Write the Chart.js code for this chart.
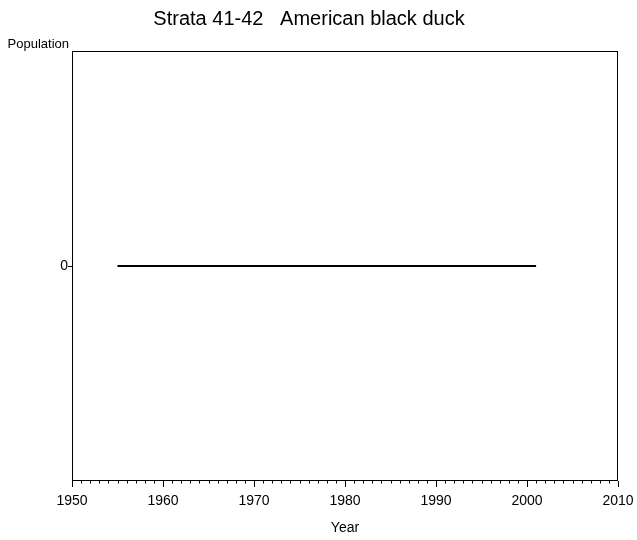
<!DOCTYPE html>
<html>
<head>
<meta charset="utf-8">
<script src="https://cdn.jsdelivr.net/npm/chart.js@4"></script>
<style>
  html, body { margin: 0; padding: 0; background: #fff; }
  #wrap { width: 637px; height: 540px; }
</style>
</head>
<body>
<div id="wrap"><canvas id="c" width="637" height="540"></canvas></div>
<script>
// Survey years and estimated population for the stratum
const years = [1955, 1956, 1957, 1958, 1959, 1960, 1961, 1962, 1963, 1964,
               1965, 1966, 1967, 1968, 1969, 1970, 1971, 1972, 1973, 1974,
               1975, 1976, 1977, 1978, 1979, 1980, 1981, 1982, 1983, 1984,
               1985, 1986, 1987, 1988, 1989, 1990, 1991, 1992, 1993, 1994,
               1995, 1996, 1997, 1998, 1999, 2000, 2001];
const population = [0, 0, 0, 0, 0, 0, 0, 0, 0, 0,
                    0, 0, 0, 0, 0, 0, 0, 0, 0, 0,
                    0, 0, 0, 0, 0, 0, 0, 0, 0, 0,
                    0, 0, 0, 0, 0, 0, 0, 0, 0, 0,
                    0, 0, 0, 0, 0, 0, 0];

// Axis ticks
const xTickLabels = [1950, 1960, 1970, 1980, 1990, 2000, 2010];
const yTickValues = [0];

const FONT = "'Liberation Sans', Arial, Helvetica, sans-serif";

// Plot frame, minor year ticks and the horizontal y-axis caption
const framePlugin = {
  id: 'frame',
  afterDraw(chart) {
    const { ctx, chartArea: a } = chart;
    const xs = chart.scales.x;
    ctx.save();
    ctx.strokeStyle = '#000';
    ctx.lineWidth = 1;
    const l = Math.round(a.left) + 0.5, r = Math.round(a.right) - 0.5;
    const t = Math.round(a.top) + 0.5, b = Math.round(a.bottom) - 0.5;
    ctx.strokeRect(l, t, r - l, b - t);

    // minor ticks every year
    ctx.beginPath();
    xs.ticks.forEach(tk => {
      if (xTickLabels.includes(tk.value)) return;
      const px = Math.round(xs.getPixelForValue(tk.value)) + 0.5;
      ctx.moveTo(px, b);
      ctx.lineTo(px, b + 3);
    });
    ctx.stroke();

    ctx.fillStyle = '#000';
    ctx.font = '13px ' + FONT;
    ctx.textAlign = 'right';
    ctx.textBaseline = 'alphabetic';
    ctx.fillText('Population', a.left - 3, a.top - 3);
    ctx.restore();
  }
};

new Chart(document.getElementById('c'), {
  type: 'line',
  data: {
    datasets: [{
      data: years.map((y, i) => ({ x: y, y: population[i] })),
      borderColor: '#000',
      borderWidth: 2,
      pointRadius: 0,
      tension: 0,
      fill: false
    }]
  },
  options: {
    responsive: false,
    animation: false,
    devicePixelRatio: 1,
    layout: { padding: { left: 0, right: 19, top: 0, bottom: 0 } },
    plugins: {
      legend: { display: false },
      tooltip: { enabled: false },
      title: {
        display: true,
        text: 'Strata 41-42   American black duck',
        color: '#000',
        font: { family: FONT, size: 20, weight: 'normal' },
        padding: { top: 7, bottom: 20 }
      }
    },
    scales: {
      x: {
        type: 'linear',
        min: 1950,
        max: 2010,
        afterFit: s => { s.height = 59; s.paddingLeft = 0; s.paddingRight = 0; },
        ticks: {
          stepSize: 1,
          autoSkip: false,
          maxRotation: 0,
          padding: 6,
          color: '#000',
          font: { family: FONT, size: 14 },
          callback: v => xTickLabels.includes(v) ? String(v) : ''
        },
        grid: {
          drawOnChartArea: false,
          drawTicks: true,
          tickLength: 6,
          tickWidth: 1,
          tickColor: c => (c.tick && xTickLabels.includes(c.tick.value)) ? '#000' : 'rgba(0,0,0,0)'
        },
        border: { display: false },
        title: {
          display: true,
          text: 'Year',
          color: '#000',
          font: { family: FONT, size: 14 },
          padding: { top: 0, bottom: 3 }
        }
      },
      y: {
        min: -1,
        max: 1,
        afterFit: s => { s.width = 72; },
        afterBuildTicks: s => { s.ticks = yTickValues.map(v => ({ value: v })); },
        ticks: {
          padding: 0,
          color: '#000',
          font: { family: FONT, size: 14 },
          callback: v => String(v)
        },
        grid: {
          drawOnChartArea: false,
          drawTicks: true,
          tickLength: 4,
          tickColor: '#000'
        },
        border: { display: false }
      }
    }
  },
  plugins: [framePlugin]
});
</script>
</body>
</html>
